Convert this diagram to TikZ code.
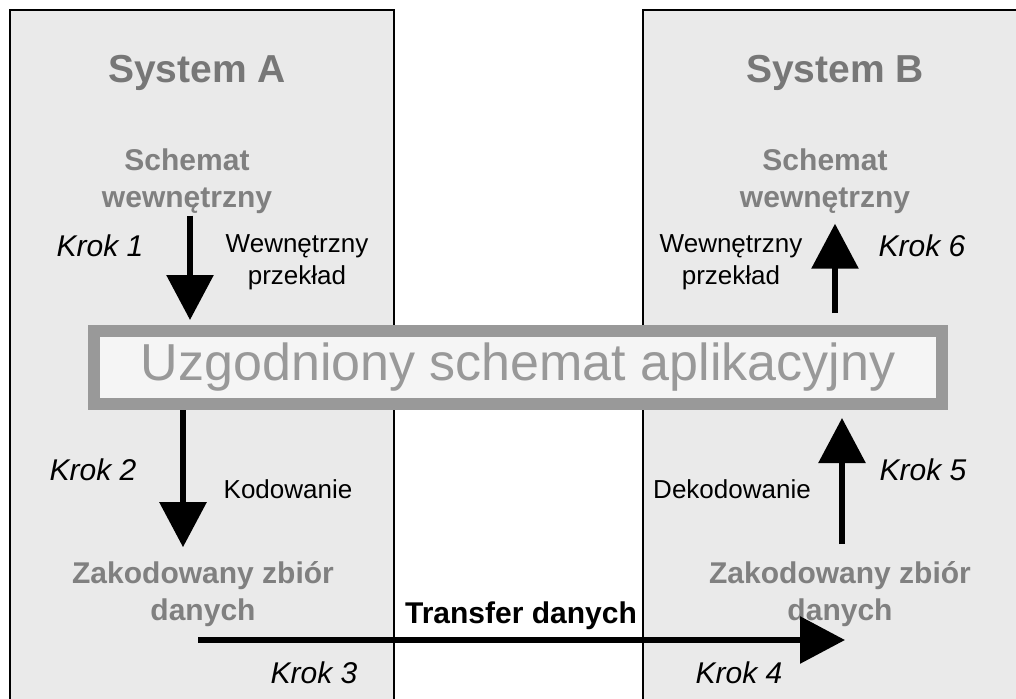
\documentclass[tikz,border=0pt]{standalone}
\usepackage{fontspec}
\setmainfont{Liberation Sans}
\usetikzlibrary{arrows.meta}
\definecolor{panelgray}{HTML}{EAEAEA}
\definecolor{titlegray}{HTML}{777777}
\definecolor{textgray}{HTML}{808080}
\definecolor{boxgray}{HTML}{999999}
\definecolor{boxfill}{HTML}{F5F5F5}
\begin{document}
\begin{tikzpicture}[x=1pt, y=-1pt,
  panel/.style={draw, line width=2.5pt, fill=panelgray},
  title/.style={inner sep=2pt, text=titlegray, font=\fontsize{39}{41}\selectfont\bfseries},
  store/.style={inner sep=2pt, text=textgray, align=center, font=\fontsize{30}{37}\selectfont\bfseries},
  krok/.style={inner sep=2pt, font=\fontsize{30}{32}\selectfont\itshape},
  note/.style={inner sep=2pt, align=center, font=\fontsize{26}{32}\selectfont},
  agreed/.style={draw=boxgray, line width=12pt, fill=boxfill, text=boxgray, minimum width=848pt, minimum height=73pt, font=\fontsize{52}{54}\selectfont},
  bigarrow/.style={line width=6pt, -{Triangle[width=46pt,length=45pt]}},
]
  \useasboundingbox (0,0) rectangle (1016,698);
  \clip (0,0) rectangle (1016,698);
  \fill[white] (0,0) rectangle (1016,698);
  \draw[panel] (10,10) rectangle (394,720);
  \draw[panel] (643,10) rectangle (1040,720);

  \node[title] (sysA) at (197,73) {System A};
  \node[title] (sysB) at (835,73) {System B};
  \node[store] (schemA) at (187,181) {Schemat\\wewnętrzny};
  \node[store] (schemB) at (825,181) {Schemat\\wewnętrzny};
  \node[krok] (krok1) at (100,246) {Krok 1};
  \node[note] (wewA) at (297,262) {Wewnętrzny\\przekład};
  \node[note] (wewB) at (731,262) {Wewnętrzny\\przekład};
  \node[krok] (krok6) at (922,246) {Krok 6};

  \node[agreed] (box) at (518,367.5) {Uzgodniony schemat aplikacyjny};

  \node[krok] (krok2) at (93,470) {Krok 2};
  \node[note] (kodA) at (288,489) {Kodowanie};
  \node[note] (dekB) at (732,489) {Dekodowanie};
  \node[krok] (krok5) at (923,470) {Krok 5};
  \node[store] (zakA) at (203,594) {Zakodowany zbiór\\danych};
  \node[store] (zakB) at (840,594) {Zakodowany zbiór\\danych};
  \node[inner sep=2pt, font=\fontsize{30}{32}\selectfont\bfseries] (transfer) at (521,616) {Transfer danych};
  \node[krok] (krok3) at (314,673) {Krok 3};
  \node[krok] (krok4) at (739,673) {Krok 4};

  \coordinate (tstart) at (198,640);
  \coordinate (tend) at (845,640);

  \draw[bigarrow, shorten >=5pt] ([xshift=3pt]schemA.south) -- ([xshift=3pt]schemA.south |- box.north);
  \draw[bigarrow, shorten >=12pt] ([xshift=-20pt]zakA.north |- box.south) -- ([xshift=-20pt]zakA.north);
  \draw[bigarrow, shorten <=15pt, shorten >=8pt] ([xshift=2pt]zakB.north) -- ([xshift=2pt]zakB.north |- box.south);
  \draw[bigarrow, shorten <=12pt, shorten >=8pt] ([xshift=10pt]schemB.south |- box.north) -- ([xshift=10pt]schemB.south);
  \draw[bigarrow] (tstart) -- (tend);
\end{tikzpicture}
\end{document}
